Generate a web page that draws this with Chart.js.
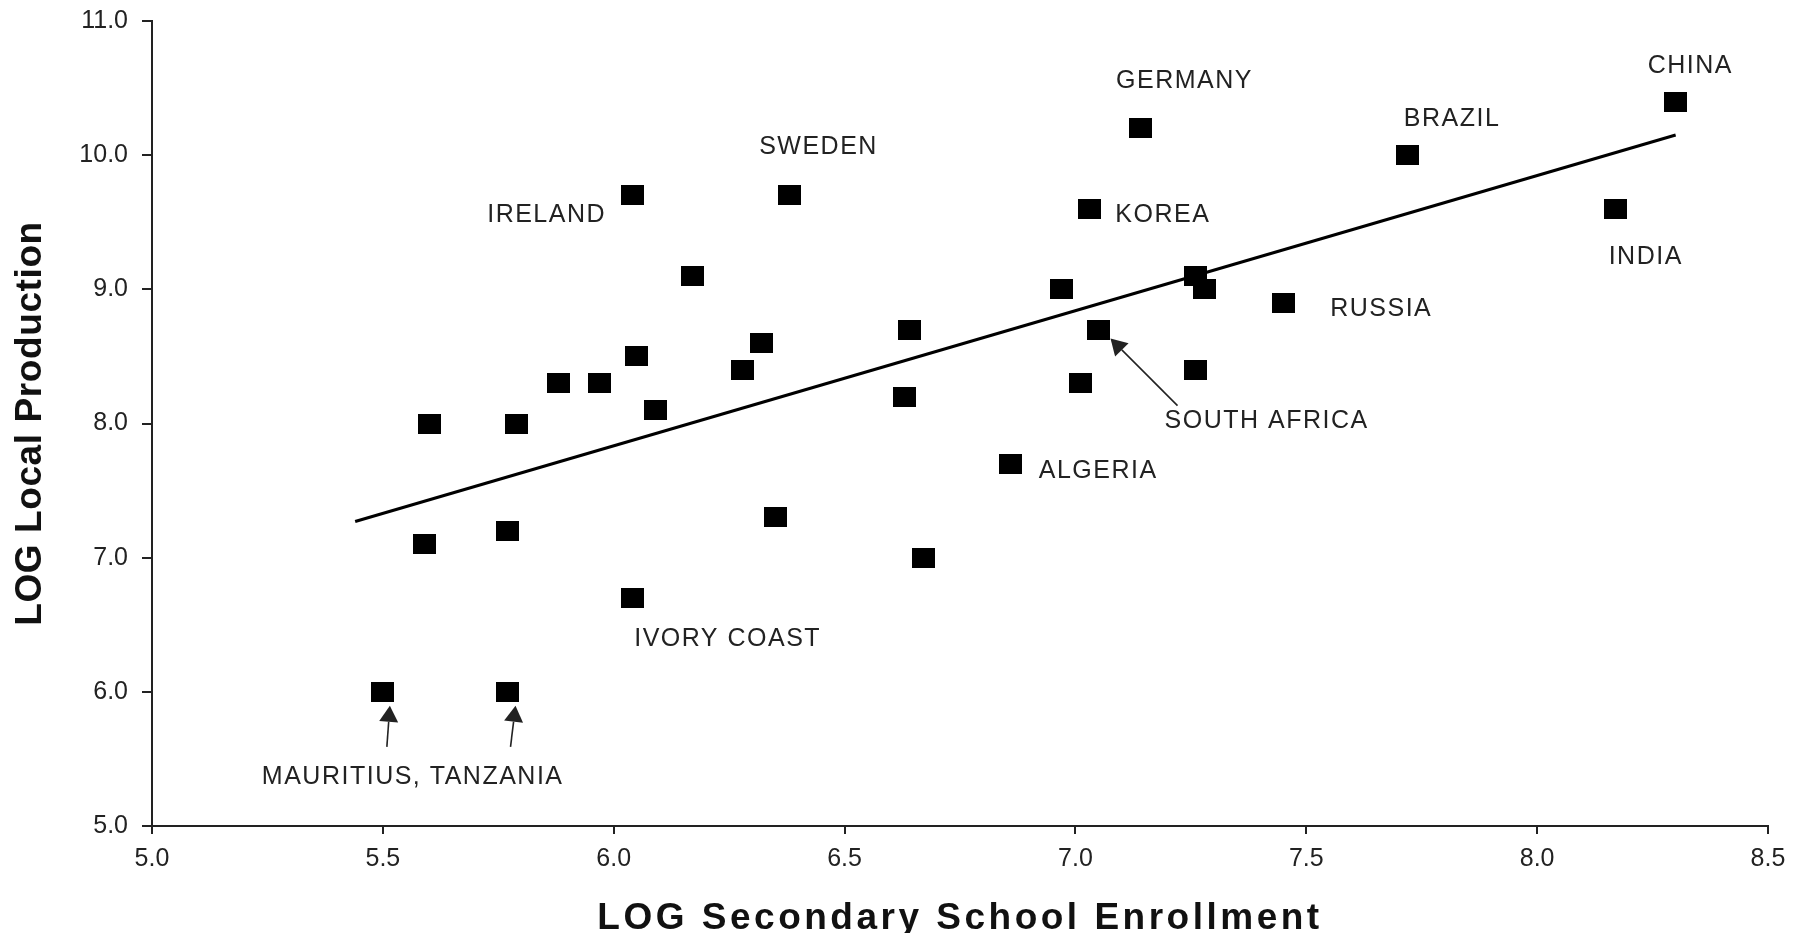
<!DOCTYPE html>
<html>
<head>
<meta charset="utf-8">
<title>LOG Local Production vs LOG Secondary School Enrollment</title>
<script src="https://cdn.jsdelivr.net/npm/chart.js@4/dist/chart.umd.min.js"></script>
<style>
  html, body { margin: 0; padding: 0; background: #ffffff; }
  #wrap { width: 1802px; height: 933px; }
</style>
</head>
<body>
<div id="wrap"><canvas id="chart" width="1802" height="933"></canvas></div>
<script>
// ---- data ----
const countries = [
  'IRELAND', 'SWEDEN', 'GERMANY', 'KOREA', 'BRAZIL', 'CHINA', 'INDIA', 'RUSSIA',
  'SOUTH AFRICA', 'ALGERIA', 'IVORY COAST', 'MAURITIUS', 'TANZANIA',
  '', '', '', '', '', '', '', '', '', '', '', '', '', '', '', '', '', '', '', ''
];
const enrollment = [
  6.04, 6.38, 7.14, 7.03, 7.72, 8.30, 8.17, 7.45,
  7.05, 6.86, 6.04, 5.50, 5.77,
  5.59, 5.77, 5.60, 5.79, 5.88, 5.97, 6.05, 6.09, 6.17, 6.28,
  6.32, 6.35, 6.63, 6.64, 6.67, 6.97, 7.01, 7.26, 7.28, 7.26
];
const production = [
  9.7, 9.7, 10.2, 9.6, 10.0, 10.4, 9.6, 8.9,
  8.7, 7.7, 6.7, 6.0, 6.0,
  7.1, 7.2, 8.0, 8.0, 8.3, 8.3, 8.5, 8.1, 9.1, 8.4,
  8.6, 7.3, 8.2, 8.7, 7.0, 9.0, 8.3, 9.1, 9.0, 8.4
];
// fitted trend line end points
const trendX = [5.44, 8.30];
const trendY = [7.27, 10.15];

const xTickValues = [5.0, 5.5, 6.0, 6.5, 7.0, 7.5, 8.0, 8.5];
const yTickValues = [5.0, 6.0, 7.0, 8.0, 9.0, 10.0, 11.0];

// ---- presentation ----
const FONT = "'Liberation Sans', Arial, Helvetica, sans-serif";
const INK = '#222222';

// country name placement, in pixels from the marker centre (left edge, text middle)
const pointLabels = [
  { text: 'IRELAND',             at: 'IRELAND',      dx: -145, dy: 20 },
  { text: 'SWEDEN',              at: 'SWEDEN',       dx: -30,  dy: -48 },
  { text: 'GERMANY',             at: 'GERMANY',      dx: -24,  dy: -47 },
  { text: 'KOREA',               at: 'KOREA',        dx: 26,   dy: 6.5 },
  { text: 'BRAZIL',              at: 'BRAZIL',       dx: -4,   dy: -36 },
  { text: 'CHINA',               at: 'CHINA',        dx: -28,  dy: -35 },
  { text: 'INDIA',               at: 'INDIA',        dx: -7,   dy: 48 },
  { text: 'RUSSIA',              at: 'RUSSIA',       dx: 47,   dy: 6.5 },
  { text: 'SOUTH AFRICA',        at: 'SOUTH AFRICA', dx: 66,   dy: 92 },
  { text: 'ALGERIA',             at: 'ALGERIA',      dx: 28,   dy: 7.5 },
  { text: 'IVORY COAST',         at: 'IVORY COAST',  dx: 2,    dy: 41 },
  { text: 'MAURITIUS, TANZANIA', at: 'MAURITIUS',    dx: -121, dy: 85 }
];
// pointer arrows: tail and tip, in pixels from the marker centre
const pointArrows = [
  { at: 'SOUTH AFRICA', from: [79, 76], to: [12, 9] },
  { at: 'MAURITIUS',    from: [4, 55],  to: [7, 14] },
  { at: 'TANZANIA',     from: [3, 55],  to: [8, 14] }
];

// solid marker slightly wider than tall
const marker = document.createElement('canvas');
marker.width = 23;
marker.height = 20;
(function () {
  const m = marker.getContext('2d');
  m.fillStyle = '#000000';
  m.fillRect(0, 0, marker.width, marker.height);
})();

const points = enrollment.map((x, i) => ({ x: x, y: production[i] }));
const trend = trendX.map((x, i) => ({ x: x, y: trendY[i] }));

// letter-spaced axis titles
const titleSpacing = { x: '3.5px', y: '0.6px' };
const spacedTitles = {
  id: 'spacedTitles',
  afterLayout(chart) {
    for (const id of Object.keys(titleSpacing)) {
      const s = chart.scales[id];
      if (!s || s._spacedTitle) continue;
      const orig = s.drawTitle.bind(s);
      s.drawTitle = function () {
        const ctx = this.ctx;
        ctx.save();
        ctx.letterSpacing = titleSpacing[id];
        orig();
        ctx.restore();
      };
      s._spacedTitle = true;
    }
  }
};

function drawArrow(ctx, x0, y0, x1, y1) {
  const ang = Math.atan2(y1 - y0, x1 - x0);
  const len = 16, half = 9.5;
  const bx = x1 - Math.cos(ang) * len;
  const by = y1 - Math.sin(ang) * len;
  ctx.beginPath();
  ctx.moveTo(x0, y0);
  ctx.lineTo(bx, by);
  ctx.stroke();
  ctx.beginPath();
  ctx.moveTo(x1, y1);
  ctx.lineTo(bx + Math.sin(ang) * half, by - Math.cos(ang) * half);
  ctx.lineTo(bx - Math.sin(ang) * half, by + Math.cos(ang) * half);
  ctx.closePath();
  ctx.fill();
}

const countryLabels = {
  id: 'countryLabels',
  afterDatasetsDraw(chart) {
    const { ctx, scales: { x, y } } = chart;
    const pos = (name) => {
      const i = countries.indexOf(name);
      return [x.getPixelForValue(enrollment[i]), y.getPixelForValue(production[i])];
    };
    ctx.save();
    ctx.fillStyle = INK;
    ctx.strokeStyle = INK;
    ctx.font = '25px ' + FONT;
    ctx.letterSpacing = '1.5px';
    ctx.textAlign = 'left';
    ctx.textBaseline = 'middle';
    for (const l of pointLabels) {
      const [px, py] = pos(l.at);
      ctx.fillText(l.text, px + l.dx, py + l.dy);
    }
    ctx.lineWidth = 1.6;
    for (const a of pointArrows) {
      const [px, py] = pos(a.at);
      drawArrow(ctx, px + a.from[0], py + a.from[1], px + a.to[0], py + a.to[1]);
    }
    ctx.restore();
  }
};

// fixed plot frame: the tick label overhang must not push the frame inwards
function fixX(s) {
  s.height = 107;
  s.paddingLeft = 0; s.paddingRight = 0; s.paddingTop = 0; s.paddingBottom = 0;
}
function fixY(s) {
  s.width = 152;
  s.paddingLeft = 0; s.paddingRight = 0; s.paddingTop = 0; s.paddingBottom = 0;
}

new Chart(document.getElementById('chart'), {
  type: 'scatter',
  data: {
    datasets: [
      {
        label: 'Countries',
        data: points,
        pointStyle: marker,
        pointRadius: 12,
        pointHoverRadius: 12,
        order: 0
      },
      {
        label: 'Trend',
        data: trend,
        showLine: true,
        borderColor: '#000000',
        borderWidth: 3,
        pointRadius: 0,
        pointHoverRadius: 0,
        fill: false,
        tension: 0,
        order: 1
      }
    ]
  },
  options: {
    responsive: false,
    animation: false,
    devicePixelRatio: 1,
    layout: { autoPadding: false, padding: { top: 21, right: 34, bottom: 0, left: 0 } },
    plugins: {
      legend: { display: false },
      tooltip: { enabled: false }
    },
    scales: {
      x: {
        type: 'linear',
        min: 5,
        max: 8.5,
        afterBuildTicks: (s) => { s.ticks = xTickValues.map(v => ({ value: v })); },
        afterFit: fixX,
        grid: { drawOnChartArea: false, drawTicks: true, tickLength: 8, color: INK, lineWidth: 2 },
        border: { display: true, color: INK, width: 2 },
        ticks: {
          padding: 10,
          color: INK,
          font: { family: FONT, size: 25 },
          callback: (v) => Number(v).toFixed(1)
        },
        title: {
          display: true,
          text: 'LOG Secondary School Enrollment',
          color: '#111111',
          font: { family: FONT, size: 37, weight: 'bold', lineHeight: 0.75 },
          padding: { top: 0, bottom: 0 }
        }
      },
      y: {
        type: 'linear',
        min: 5,
        max: 11,
        afterBuildTicks: (s) => { s.ticks = yTickValues.map(v => ({ value: v })); },
        afterFit: fixY,
        grid: { drawOnChartArea: false, drawTicks: true, tickLength: 10, color: INK, lineWidth: 2 },
        border: { display: true, color: INK, width: 2 },
        ticks: {
          padding: 14,
          color: INK,
          font: { family: FONT, size: 25 },
          callback: (v) => Number(v).toFixed(1)
        },
        title: {
          display: true,
          text: 'LOG Local Production',
          color: '#111111',
          font: { family: FONT, size: 37, weight: 'bold', lineHeight: 1.15 },
          padding: { top: 9.5, bottom: 0 }
        }
      }
    }
  },
  plugins: [spacedTitles, countryLabels]
});
</script>
</body>
</html>
